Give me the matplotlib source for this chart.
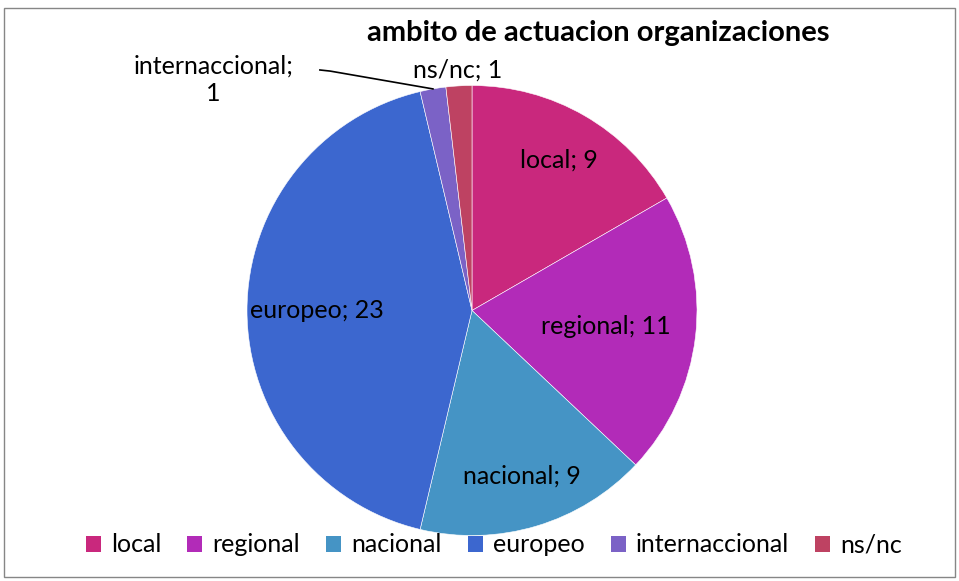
import numpy as np
import matplotlib.pyplot as plt
from matplotlib.patches import Rectangle, Patch

categories = ["local", "regional", "nacional", "europeo", "internaccional", "ns/nc"]
values = [9, 11, 9, 23, 1, 1]
colors = ["#C9287D", "#B22BB8", "#4594C5", "#3C67CF", "#7B62C6", "#BE4262"]
label_dist = [0.77, 0.60, 0.77, 0.69, None, 1.07]

plt.rcParams["font.family"] = ["Lato", "DejaVu Sans"]
LABEL_FS = 18

fig = plt.figure(figsize=(9.59, 5.81), dpi=100, facecolor="white")
fig.patches.append(Rectangle((4 / 959, 4 / 581), 951 / 959, 569 / 581, transform=fig.transFigure,
                             fill=False, edgecolor="#868686", linewidth=1.0))

ax = fig.add_axes([247 / 959, 45.5 / 581, 450 / 959, 450 / 581])
wedges, _ = ax.pie(values, colors=colors, startangle=90, counterclock=False, radius=1.0,
                   wedgeprops=dict(edgecolor="white", linewidth=0.4))
ax.set_xlim(-1, 1)
ax.set_ylim(-1, 1)
ax.set_aspect("equal")
ax.axis("off")

for w, cat, val, d in zip(wedges, categories, values, label_dist):
    mid = np.deg2rad((w.theta1 + w.theta2) / 2)
    if d is None:
        tip = (np.cos(mid), np.sin(mid))
        ax.plot([-0.676, -0.63, tip[0]], [1.069, 1.064, tip[1]], color="black", lw=1.2, clip_on=False)
        ax.text(-1.15, 1.025, f"{cat};\n1", ha="center", va="center", fontsize=LABEL_FS,
                linespacing=1.25, color="black")
        continue
    ax.text(d * np.cos(mid), d * np.sin(mid), f"{cat}; {val}", ha="center", va="center",
            fontsize=LABEL_FS, color="black")

fig.text(598 / 959, 1 - 33 / 581, "ambito de actuacion organizaciones", ha="center", va="center",
         fontsize=21, fontweight="bold", color="black")

handles = [Patch(facecolor=c, edgecolor="none") for c in colors]
fig.legend(handles, categories, loc="center", bbox_to_anchor=(494 / 959, 1 - 545 / 581), ncol=6,
           frameon=False, fontsize=LABEL_FS, handlelength=0.6, handleheight=0.6, handletextpad=0.4,
           columnspacing=1.05, borderpad=0)

fig.savefig("out.png", dpi=100, facecolor="white")
